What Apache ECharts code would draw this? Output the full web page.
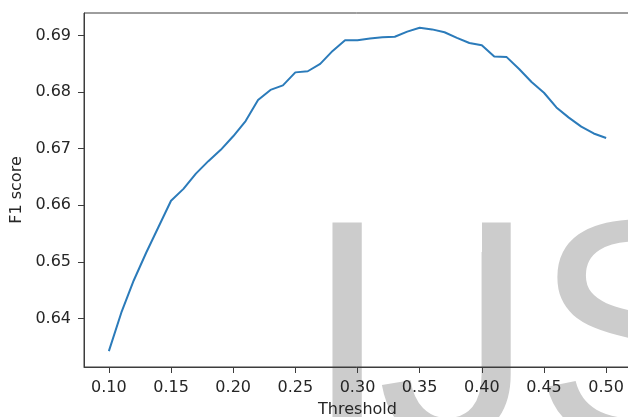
<!DOCTYPE html>
<html>
<head>
<meta charset="utf-8">
<script src="https://cdn.jsdelivr.net/npm/echarts@6/dist/echarts.min.js"></script>
<style>
html,body{margin:0;padding:0;background:#fff;}
#chart{width:628px;height:417px;}
</style>
</head>
<body>
<div id="chart"></div>
<script>
var thresholds = [0.10,0.11,0.12,0.13,0.14,0.15,0.16,0.17,0.18,0.19,0.20,0.21,0.22,0.23,0.24,0.25,0.26,0.27,0.28,0.29,0.30,0.31,0.32,0.33,0.34,0.35,0.36,0.37,0.38,0.39,0.40,0.41,0.42,0.43,0.44,0.45,0.46,0.47,0.48,0.49,0.50];
var f1Scores = [0.6342,0.6410,0.6467,0.6516,0.6562,0.6608,0.6629,0.6656,0.6678,0.6698,0.6722,0.6749,0.6786,0.6804,0.6812,0.6835,0.6837,0.6850,0.6873,0.6892,0.6892,0.6895,0.6897,0.6898,0.6907,0.6914,0.6911,0.6906,0.6896,0.6887,0.6883,0.6863,0.6862,0.6841,0.6818,0.6799,0.6773,0.6755,0.6739,0.6727,0.6719];
var xTicks = [0.10,0.15,0.20,0.25,0.30,0.35,0.40,0.45,0.50];
var yTicks = [0.64,0.65,0.66,0.67,0.68,0.69];
var xLabel = 'Threshold';
var yLabel = 'F1 score';
var watermarkLetters = ['I','J','S'];

var chart = echarts.init(document.getElementById('chart'), null, {renderer:'canvas'});
var font = 'DejaVu Sans';
var txt = '#262626';
var spine = '#3c3c3c';
var wmFont = '314px "Liberation Sans"';
var wmGray = '#cccccc';
var data = thresholds.map(function(t,i){return [t, f1Scores[i]];});
chart.setOption({
  animation:false,
  backgroundColor:'#ffffff',
  grid:{left:84, top:13, width:547, height:354, show:true, borderColor:spine, borderWidth:1, backgroundColor:'transparent', containLabel:false, outerBoundsMode:'none'},
  graphic:[
    {type:'text', z:-10, silent:true, style:{text:watermarkLetters[0], x:303.5, y:352, fill:wmGray, font:wmFont, align:'left', verticalAlign:'middle'}},
    {type:'text', z:-10, silent:true, style:{text:watermarkLetters[1], x:377, y:352, fill:wmGray, font:wmFont, align:'left', verticalAlign:'middle'}},
    {type:'text', z:-10, silent:true, style:{text:watermarkLetters[2], x:533, y:352, fill:wmGray, font:wmFont, align:'left', verticalAlign:'middle'}},
    {type:'rect', z:-5, silent:true, shape:{x:425, y:212, width:57, height:40}, style:{fill:'#ffffff'}}
  ],
  xAxis:{
    type:'value', min:0.08, max:0.52, z:5,
    name:xLabel, nameLocation:'middle', nameGap:35,
    nameTextStyle:{color:txt, fontFamily:font, fontSize:16},
    axisLine:{show:true, lineStyle:{color:spine, width:1}},
    axisTick:{show:true, length:6, inside:false, lineStyle:{color:spine}, customValues:xTicks},
    axisLabel:{color:txt, fontFamily:font, fontSize:16, margin:13, customValues:xTicks, formatter:function(v){return v.toFixed(2);}},
    splitLine:{show:false}
  },
  yAxis:{
    type:'value', min:0.6314, max:0.6940, z:5,
    name:yLabel, nameLocation:'middle', nameGap:53, nameRotate:90,
    nameTextStyle:{color:txt, fontFamily:font, fontSize:16},
    axisLine:{show:true, lineStyle:{color:spine, width:1}},
    axisTick:{show:true, length:6, inside:false, lineStyle:{color:spine}, customValues:yTicks},
    axisLabel:{color:txt, fontFamily:font, fontSize:16, margin:13, customValues:yTicks, formatter:function(v){return v.toFixed(2);}},
    splitLine:{show:false}
  },
  series:[{
    type:'line', data:data, showSymbol:false, symbol:'none', z:10,
    lineStyle:{color:'#2b7bba', width:2}
  }]
});
</script>
</body>
</html>
